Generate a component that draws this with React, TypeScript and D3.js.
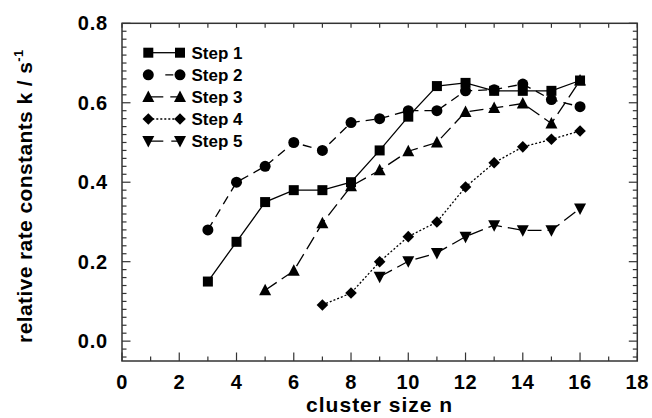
import React, { useEffect, useRef } from 'react';
import * as d3 from 'd3';

// cluster sizes and relative rate constants per step
const step1N = [3, 4, 5, 6, 7, 8, 9, 10, 11, 12, 13, 14, 15, 16];
const step1K = [0.15, 0.25, 0.35, 0.38, 0.38, 0.40, 0.48, 0.565, 0.642, 0.65, 0.63, 0.63, 0.63, 0.656];
const step2N = [3, 4, 5, 6, 7, 8, 9, 10, 11, 12, 13, 14, 15, 16];
const step2K = [0.28, 0.40, 0.44, 0.50, 0.48, 0.55, 0.56, 0.58, 0.58, 0.63, 0.633, 0.647, 0.608, 0.59];
const step3N = [5, 6, 7, 8, 9, 10, 11, 12, 13, 14, 15, 16];
const step3K = [0.128, 0.177, 0.297, 0.39, 0.43, 0.478, 0.50, 0.577, 0.587, 0.598, 0.548, 0.656];
const step4N = [7, 8, 9, 10, 11, 12, 13, 14, 15, 16];
const step4K = [0.091, 0.121, 0.20, 0.263, 0.30, 0.388, 0.449, 0.489, 0.508, 0.529];
const step5N = [9, 10, 11, 12, 13, 14, 15, 16];
const step5K = [0.162, 0.201, 0.222, 0.263, 0.292, 0.279, 0.279, 0.334];

const xTicks = [0, 2, 4, 6, 8, 10, 12, 14, 16, 18];
const yTicks = [0.0, 0.2, 0.4, 0.6, 0.8];

const series = [
  { name: 'Step 1', n: step1N, k: step1K, symbol: 'square', dash: null, legDash: null },
  { name: 'Step 2', n: step2N, k: step2K, symbol: 'circle', dash: '9,6', legDash: '0,17,8,100' },
  { name: 'Step 3', n: step3N, k: step3K, symbol: 'triUp', dash: '14,6', legDash: '15,7,20' },
  { name: 'Step 4', n: step4N, k: step4K, symbol: 'diamond', dash: '2,2', legDash: '2,2' },
  { name: 'Step 5', n: step5N, k: step5K, symbol: 'triDown', dash: '14,6', legDash: '15,8,20' },
];

const W = 652, H = 418;
const margin = { top: 23.3, right: 14.7, bottom: 57, left: 122 };
const FONT = '"Liberation Sans", Arial, sans-serif';

function drawSymbol(g: any, type: string, cx: number, cy: number) {
  const c = '#000';
  if (type === 'square') {
    g.append('rect').attr('x', cx - 5).attr('y', cy - 5).attr('width', 10).attr('height', 10).attr('fill', c);
  } else if (type === 'circle') {
    g.append('circle').attr('cx', cx).attr('cy', cy).attr('r', 5.5).attr('fill', c);
  } else if (type === 'triUp') {
    g.append('path').attr('d', `M${cx},${cy - 6.5}L${cx + 6},${cy + 5}L${cx - 6},${cy + 5}Z`).attr('fill', c);
  } else if (type === 'triDown') {
    g.append('path').attr('d', `M${cx},${cy + 6.5}L${cx + 6},${cy - 5}L${cx - 6},${cy - 5}Z`).attr('fill', c);
  } else if (type === 'diamond') {
    g.append('path').attr('d', `M${cx},${cy - 5.8}L${cx + 5.8},${cy}L${cx},${cy + 5.8}L${cx - 5.8},${cy}Z`).attr('fill', c);
  }
}

export default function App() {
  const ref = useRef<SVGSVGElement>(null);

  useEffect(() => {
    const svg = d3.select(ref.current);
    svg.selectAll('*').remove();
    const innerW = W - margin.left - margin.right;
    const innerH = H - margin.top - margin.bottom;

    const x = d3.scaleLinear().domain([0, 18]).range([margin.left, margin.left + innerW]);
    const y = d3.scaleLinear().domain([-0.05, 0.8]).range([margin.top + innerH, margin.top]);

    const axisColor = '#333';
    const gAx = svg.append('g').attr('stroke', axisColor).attr('stroke-width', 1.2);
    const bottom = y.range()[0], top = y.range()[1];
    const left = x.range()[0], right = x.range()[1];

    // x ticks every 1 (major every 2), inward; top axis short ticks
    d3.range(0, 19, 1).forEach(v => {
      const len = v % 2 === 0 ? 8.5 : 4.5;
      gAx.append('line').attr('x1', x(v)).attr('x2', x(v)).attr('y1', bottom).attr('y2', bottom - len);
      gAx.append('line').attr('x1', x(v)).attr('x2', x(v)).attr('y1', top).attr('y2', top + 4.5);
    });
    // y ticks every 0.02 (major every 0.2), left and right
    d3.range(-2, 41, 1).map(i => i / 50).forEach(v => {
      const major = Math.abs(v * 5 - Math.round(v * 5)) < 1e-6;
      const len = major ? 8.5 : 4.5;
      gAx.append('line').attr('x1', left).attr('x2', left + len).attr('y1', y(v)).attr('y2', y(v));
      gAx.append('line').attr('x1', right).attr('x2', right - len).attr('y1', y(v)).attr('y2', y(v));
    });

    // frame
    svg.append('rect').attr('x', left).attr('y', top).attr('width', innerW).attr('height', innerH)
      .attr('fill', 'none').attr('stroke', axisColor).attr('stroke-width', 1.5);

    // tick labels
    xTicks.forEach(v => {
      svg.append('text').attr('x', x(v)).attr('y', bottom + 28).attr('text-anchor', 'middle')
        .attr('font-family', FONT).attr('font-weight', 'bold').attr('font-size', 20).attr('letter-spacing', 0.6)
        .attr('fill', '#000').text(String(v));
    });
    yTicks.forEach(v => {
      svg.append('text').attr('x', 108).attr('y', y(v) + 7).attr('text-anchor', 'end')
        .attr('font-family', FONT).attr('font-weight', 'bold').attr('font-size', 20).attr('letter-spacing', 0.8)
        .attr('fill', '#000').text(d3.format('.1f')(v));
    });

    // axis titles
    svg.append('text').attr('x', (left + right) / 2).attr('y', H - 6).attr('text-anchor', 'middle')
      .attr('font-family', FONT).attr('font-weight', 'bold').attr('font-size', 21).attr('letter-spacing', 1)
      .attr('fill', '#000').text('cluster size n');
    const yt = svg.append('text').attr('transform', `translate(32,${(top + bottom) / 2 + 4}) rotate(-90)`).attr('text-anchor', 'middle')
      .attr('font-family', FONT).attr('font-weight', 'bold').attr('font-size', 21).attr('letter-spacing', 0.4).attr('fill', '#000');
    yt.append('tspan').text('relative rate constants k / s');
    yt.append('tspan').attr('dy', -9).attr('font-size', 13).text('-1');

    // series
    const gData = svg.append('g');
    series.forEach(s => {
      const pts = s.n.map((n, i) => [n, s.k[i]] as [number, number]);
      const line = d3.line<[number, number]>().x(d => x(d[0])).y(d => y(d[1]));
      gData.append('path').datum(pts).attr('d', line).attr('fill', 'none').attr('stroke', '#000').attr('stroke-width', 1.3)
        .attr('stroke-dasharray', s.dash);
      pts.forEach(p => drawSymbol(gData, s.symbol, x(p[0]), y(p[1])));
    });

    // legend
    const gLeg = svg.append('g');
    series.forEach((s, i) => {
      const ly = 52.7 + i * 22.1;
      const x1 = 148.3, x2 = 180;
      gLeg.append('line').attr('x1', x1).attr('x2', x2).attr('y1', ly).attr('y2', ly).attr('stroke', '#000').attr('stroke-width', 1.3)
        .attr('stroke-dasharray', s.legDash);
      drawSymbol(gLeg, s.symbol, x1, ly);
      drawSymbol(gLeg, s.symbol, x2, ly);
      gLeg.append('text').attr('x', 191.5).attr('y', ly + 6).attr('font-family', FONT).attr('font-weight', 'bold')
        .attr('font-size', 17).attr('fill', '#000').text(s.name);
    });
  }, []);

  return <svg ref={ref} width={W} height={H} style={{ position: 'absolute', left: 0, top: 0, background: '#fff' }} />;
}
